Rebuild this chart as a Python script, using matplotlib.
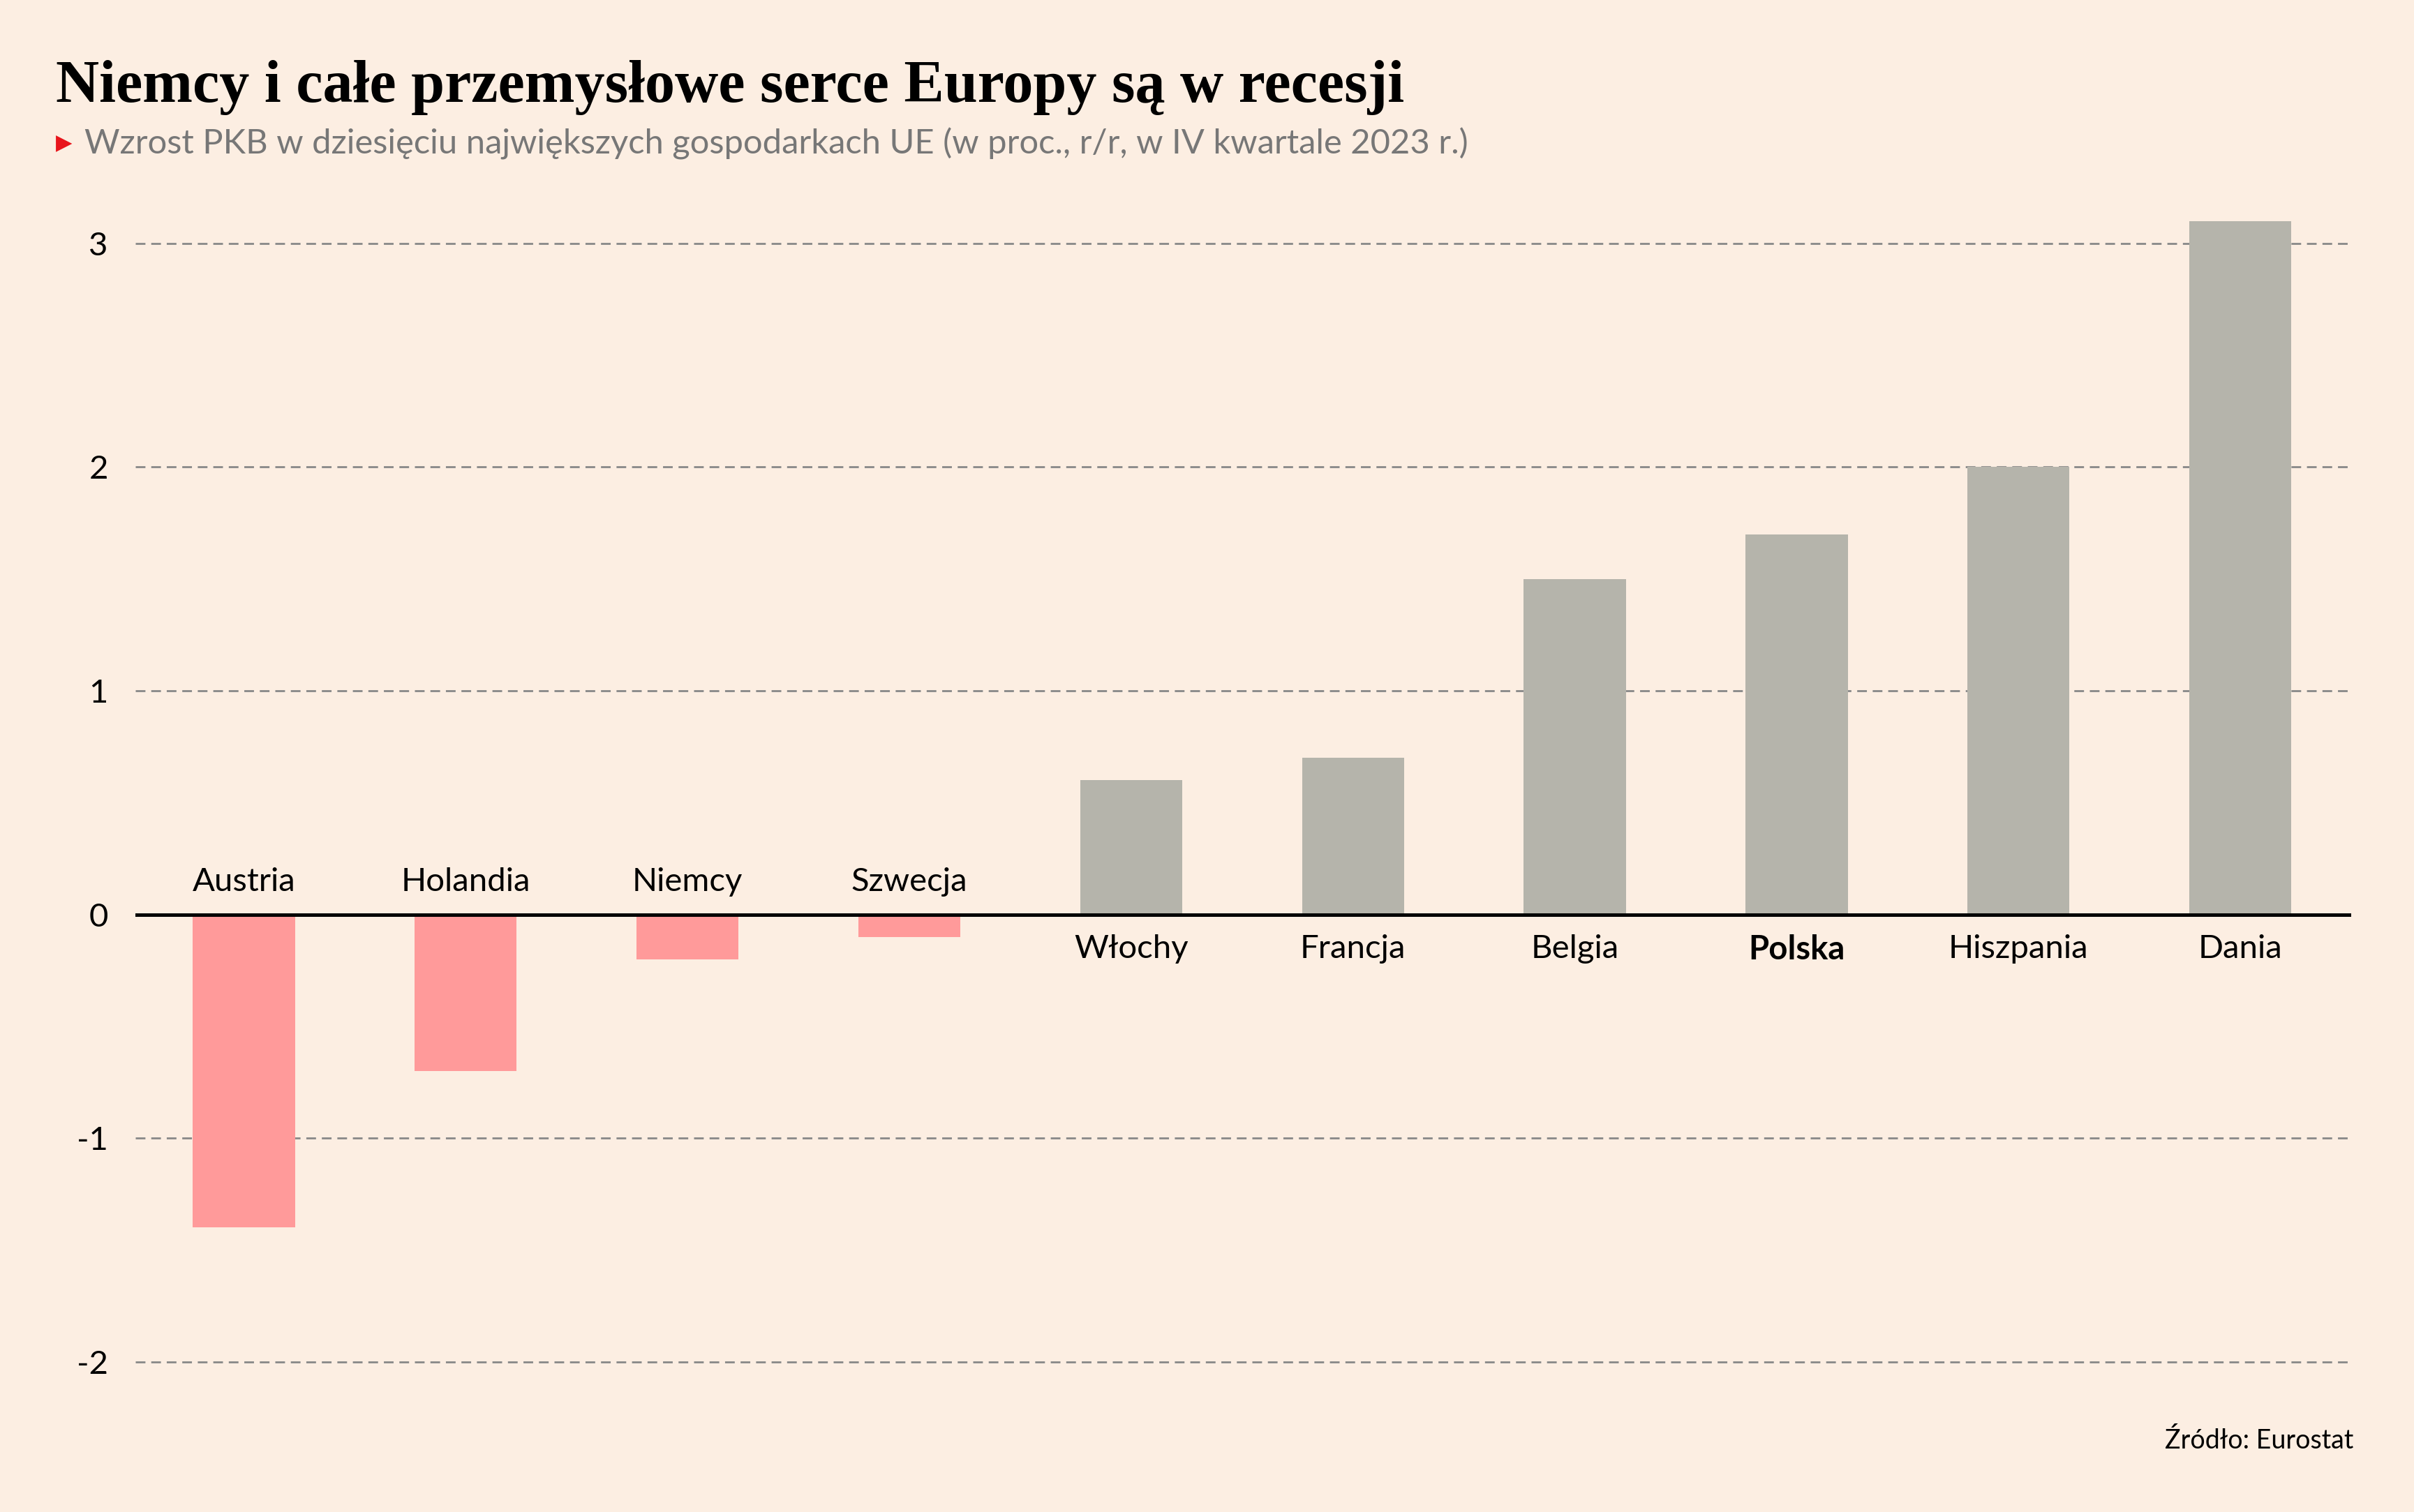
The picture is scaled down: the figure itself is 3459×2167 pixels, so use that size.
import matplotlib
matplotlib.use("Agg")
import matplotlib.pyplot as plt

countries = ["Austria", "Holandia", "Niemcy", "Szwecja", "Włochy", "Francja", "Belgia", "Polska", "Hiszpania", "Dania"]
values = [-1.4, -0.7, -0.2, -0.1, 0.6, 0.7, 1.5, 1.7, 2.0, 3.1]
yticks = [-2, -1, 0, 1, 2, 3]

BG = "#FCEEE2"
fig = plt.figure(figsize=(3459/200, 2167/200), dpi=200, facecolor=BG)
ax = fig.add_axes([0.056, 0.092, 0.918, 0.784], facecolor=BG)
x = list(range(len(countries)))
colors = ["#FF9A9A" if v < 0 else "#B5B4AB" for v in values]
ax.bar(x, values, width=0.46, color=colors, zorder=2)
ax.set_xlim(-0.49, 9.5)
ax.set_ylim(-2.05, 3.25)
for t in yticks:
    if t != 0:
        ax.axhline(t, color="#888888", lw=1.0, ls=(0, (5, 3)), zorder=1)
ax.axhline(0, color="black", lw=1.8, zorder=3)
ax.set_yticks(yticks)
ax.set_yticklabels([str(t) for t in yticks], fontsize=17, family="Lato")
ax.tick_params(axis="y", length=0, pad=14)
ax.set_xticks([])
for s in ax.spines.values():
    s.set_visible(False)
for xi, c, v in zip(x, countries, values):
    if v < 0:
        ax.text(xi, 0.08, c, ha="center", va="bottom", fontsize=17, family="Lato")
    else:
        ax.text(xi, -0.09, c, ha="center", va="top", fontsize=17, family="Lato",
                fontweight="bold" if c == "Polska" else "normal")

fig.text(0.023, 0.942, "Niemcy i całe przemysłowe serce Europy są w recesji",
         fontsize=31, fontweight="bold", family="Liberation Serif", va="center")
fig.text(0.023, 0.905, "▶", color="#E8141B", fontsize=11, va="center", family="DejaVu Sans")
fig.text(0.035, 0.905, "Wzrost PKB w dziesięciu największych gospodarkach UE (w proc., r/r, w IV kwartale 2023 r.)",
         fontsize=17.6, color="#777777", family="Lato", va="center")
fig.text(0.975, 0.047, "Źródło: Eurostat", fontsize=13.5, family="Lato", ha="right", va="center")
fig.savefig("out.png", dpi=200, facecolor=BG)
